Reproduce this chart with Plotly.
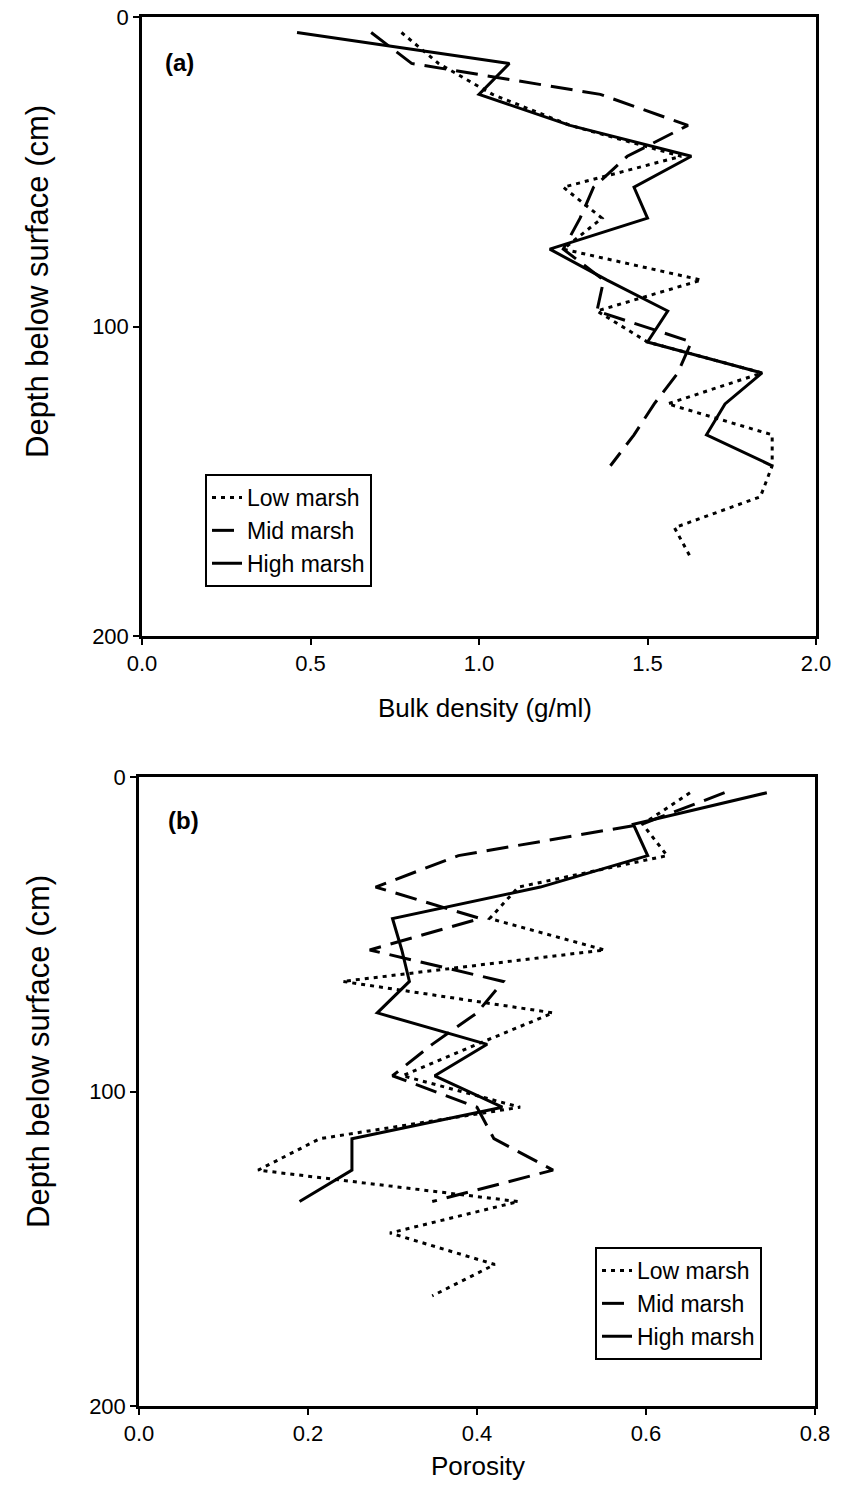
import plotly.graph_objects as go

# Sample depths (cm, midpoints of 10 cm sections)
depth_low_a = [5, 15, 25, 35, 45, 55, 65, 75, 85, 95, 105, 115, 125, 135, 145, 155, 165, 175]
depth_mid_a = [5, 15, 25, 35, 45, 55, 65, 75, 85, 95, 105, 115, 125, 135, 145]
depth_high_a = [5, 15, 25, 35, 45, 55, 65, 75, 85, 95, 105, 115, 125, 135, 145]

# Bulk density (g/ml)
bd_low = [0.77, 0.88, 1.04, 1.27, 1.60, 1.25, 1.365, 1.25, 1.66, 1.35, 1.50, 1.84,
          1.56, 1.87, 1.87, 1.835, 1.58, 1.63]
bd_mid = [0.68, 0.80, 1.36, 1.62, 1.44, 1.34, 1.30, 1.25, 1.37, 1.35, 1.63, 1.59,
          1.52, 1.46, 1.39]
bd_high = [0.46, 1.09, 1.00, 1.27, 1.63, 1.46, 1.50, 1.21, 1.38, 1.56, 1.50, 1.84,
           1.73, 1.675, 1.87]

depth_low_b = [5, 15, 25, 35, 45, 55, 65, 75, 85, 95, 105, 115, 125, 135, 145, 155, 165]
depth_mid_b = [5, 15, 25, 35, 45, 55, 65, 75, 85, 95, 105, 115, 125, 135]
depth_high_b = [5, 15, 25, 35, 45, 55, 65, 75, 85, 95, 105, 115, 125, 135]

# Porosity
por_low = [0.652, 0.596, 0.625, 0.449, 0.415, 0.551, 0.241, 0.49, 0.40, 0.312, 0.451,
           0.214, 0.141, 0.449, 0.297, 0.421, 0.347]
por_mid = [0.693, 0.595, 0.378, 0.28, 0.404, 0.273, 0.431, 0.40, 0.347, 0.30, 0.40,
           0.42, 0.49, 0.347]
por_high = [0.743, 0.585, 0.602, 0.475, 0.30, 0.311, 0.32, 0.282, 0.412, 0.35, 0.43,
            0.252, 0.252, 0.19]

series_names = ["Low marsh", "Mid marsh", "High marsh"]
dash_styles = ["4px,5px", "22px,10px", "solid"]

FONT = "Liberation Sans, Arial, sans-serif"
W, H = 841, 1486

fig = go.Figure()

panel_a = [(bd_low, depth_low_a), (bd_mid, depth_mid_a), (bd_high, depth_high_a)]
panel_b = [(por_low, depth_low_b), (por_mid, depth_mid_b), (por_high, depth_high_b)]

for (xs, ys), name, dash in zip(panel_a, series_names, dash_styles):
    fig.add_trace(go.Scatter(x=xs, y=ys, mode="lines", name=name,
                             line=dict(color="black", width=3, dash=dash),
                             xaxis="x", yaxis="y", legend="legend"))

for (xs, ys), name, dash in zip(panel_b, series_names, dash_styles):
    fig.add_trace(go.Scatter(x=xs, y=ys, mode="lines", name=name,
                             line=dict(color="black", width=3, dash=dash),
                             xaxis="x2", yaxis="y2", legend="legend2"))

axis_common = dict(
    showline=True, linecolor="black", linewidth=2.5, mirror=True,
    ticks="outside", ticklen=6, tickwidth=2, tickcolor="black",
    showgrid=False, zeroline=False, automargin=False,
    tickfont=dict(family=FONT, size=22, color="black"),
)

xdom = [142 / W, 816 / W]
xdom_b = [139 / W, 815 / W]
ydom_a = [1 - 636 / H, 1 - 17 / H]
ydom_b = [1 - 1406 / H, 1 - 777 / H]

legend_style = dict(xanchor="left", yanchor="top", bgcolor="white",
                    bordercolor="black", borderwidth=2,
                    font=dict(family=FONT, size=23), itemwidth=30, tracegroupgap=0)

fig.update_layout(
    width=W, height=H,
    margin=dict(l=0, r=0, t=0, b=0),
    paper_bgcolor="white", plot_bgcolor="white",
    font=dict(family=FONT, color="black"),
    xaxis=dict(axis_common, domain=xdom, range=[0, 2.0], tickvals=[0, 0.5, 1.0, 1.5, 2.0],
               tickformat=".1f", anchor="y"),
    yaxis=dict(axis_common, domain=ydom_a, range=[200, 0], tickvals=[0, 100, 200],
               anchor="x"),
    xaxis2=dict(axis_common, domain=xdom_b, range=[0, 0.8], tickvals=[0, 0.2, 0.4, 0.6, 0.8],
                tickformat=".1f", anchor="y2"),
    yaxis2=dict(axis_common, domain=ydom_b, range=[200, 0], tickvals=[0, 100, 200],
                anchor="x2"),
    legend=dict(legend_style, x=205 / W, y=1 - 474 / H),
    legend2=dict(legend_style, x=595 / W, y=1 - 1247 / H),
    showlegend=True,
)


def paper_text(text, px, py, size, angle=0, anchor="center"):
    fig.add_annotation(text=text, x=px / W, y=1 - py / H, xref="paper", yref="paper",
                       xanchor=anchor, yanchor="middle", showarrow=False, textangle=angle,
                       font=dict(family=FONT, size=size, color="black"))


# Axis titles
paper_text("Bulk density (g/ml)", 485, 708, 26)
paper_text("Porosity", 478, 1466, 26)
paper_text("Depth below surface (cm)", 38, 282, 31, angle=-90)
paper_text("Depth below surface (cm)", 38, 1052, 31, angle=-90)

# Panel labels
paper_text("<b>(a)</b>", 163, 62, 24, anchor="left")
paper_text("<b>(b)</b>", 166, 820, 24, anchor="left")

fig.write_html("out.html")
